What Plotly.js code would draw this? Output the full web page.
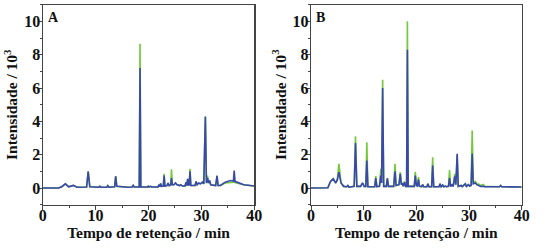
<!DOCTYPE html>
<html>
<head>
<meta charset="utf-8">
<script src="https://cdn.plot.ly/plotly-3.0.1.min.js"></script>
<style>html,body{margin:0;padding:0;background:#fff;}#chart{width:550px;height:251px;}</style>
</head>
<body>
<div id="chart"></div>
<script>
// Panel A: retention time (min) and intensity (x10^3) for both detector traces
const timeA = [0,3.0,3.6,4.3,4.9,5.8,6.5,8.3,8.6,8.9,10.6,10.8,11.0,12.1,12.3,12.5,13.6,13.8,14.0,15.7,15.9,16.1,16.9,17.1,17.3,18.25,18.4,18.55,19.8,19.95,20.1,20.4,20.6,21.8,22.0,22.15,22.3,22.45,22.8,22.95,23.1,23.5,23.7,23.9,24.2,24.35,24.5,24.8,25.1,25.4,25.9,26.1,26.4,26.9,27.1,27.25,27.4,27.55,27.7,27.85,28.0,28.8,29.0,29.2,29.5,29.8,30.2,30.45,30.75,30.95,31.15,31.35,31.55,31.75,32.7,32.95,33.15,33.6,34.5,35.5,36.05,36.2,36.35,37.0,38.0,40.0];
const greenA = [0,0,0.08,0.25,0.07,0.16,0.05,0.06,1.0,0.08,0.05,0.1,0.05,0.05,0.14,0.05,0.08,0.72,0.1,0.05,0.08,0.05,0.06,0.16,0.06,0.06,8.65,0.06,0.06,0.15,0.06,0.1,0.06,0.07,0.2,0.08,0.28,0.1,0.12,0.85,0.12,0.15,0.3,0.15,0.2,1.12,0.2,0.2,0.3,0.2,0.15,0.2,0.12,0.12,0.35,0.15,0.55,0.15,0.2,1.15,0.15,0.15,0.4,0.2,0.3,0.25,0.35,0.25,4.3,0.3,0.75,0.3,0.45,0.2,0.15,0.75,0.15,0.15,0.3,0.35,0.35,0.5,0.33,0.28,0.2,0.12];
const blueA  = [0,0,0.08,0.25,0.07,0.16,0.05,0.06,0.98,0.08,0.05,0.1,0.05,0.05,0.14,0.05,0.08,0.7,0.1,0.05,0.08,0.05,0.06,0.16,0.06,0.06,7.2,0.06,0.06,0.1,0.06,0.1,0.06,0.07,0.2,0.08,0.28,0.1,0.12,0.75,0.12,0.15,0.3,0.15,0.2,0.6,0.2,0.2,0.3,0.2,0.15,0.2,0.12,0.12,0.35,0.15,0.55,0.15,0.2,1.0,0.15,0.15,0.4,0.2,0.3,0.25,0.35,0.25,4.28,0.3,0.6,0.3,0.45,0.2,0.15,0.73,0.15,0.15,0.35,0.45,0.42,1.05,0.4,0.32,0.2,0.12];

// Panel B
const timeB = [0,3.2,3.7,4.2,4.7,5.0,5.3,5.7,6.2,6.8,7.0,7.2,8.2,8.45,8.7,9.4,9.8,10.1,10.4,10.6,10.8,12.1,12.3,12.5,13.0,13.25,13.4,13.6,13.8,14.3,14.5,14.7,15.7,15.95,16.15,16.7,16.95,17.15,17.3,17.5,17.75,17.95,18.15,18.3,18.45,19.6,19.8,20.0,20.2,20.4,20.6,21.0,21.2,21.4,22.0,22.2,22.4,22.9,23.1,23.3,24.3,24.5,24.7,25.0,25.2,25.5,25.7,26.1,26.3,26.5,26.8,27.0,27.3,27.5,27.75,27.95,28.5,28.7,29.3,29.5,29.9,30.1,30.4,30.6,30.8,31.2,31.5,31.8,32.2,32.7,33.0,35.8,36.0,36.2,40.0];
const greenB = [0,0.02,0.4,0.55,0.3,0.5,1.45,0.3,0.1,0.08,0.15,0.05,0.1,3.1,0.1,0.1,0.3,0.1,0.1,2.75,0.08,0.08,0.72,0.08,0.1,1.15,0.3,6.5,0.1,0.1,0.6,0.1,0.1,1.45,0.15,0.2,0.95,0.2,0.3,0.1,0.4,0.1,0.1,10.0,0.1,0.1,0.97,0.15,0.12,0.65,0.1,0.08,0.2,0.08,0.08,0.25,0.08,0.08,1.85,0.08,0.08,0.25,0.08,0.18,0.08,0.12,0.08,0.1,1.08,0.1,0.2,0.1,0.85,0.2,2.0,0.1,0.15,0.08,0.25,0.1,0.2,0.12,0.15,3.45,0.25,0.42,0.2,0.25,0.15,0.22,0.1,0.08,0.15,0.08,0.06];
const blueB  = [0,0.02,0.4,0.55,0.3,0.5,0.95,0.3,0.1,0.08,0.15,0.05,0.1,2.7,0.1,0.1,0.3,0.1,0.1,1.65,0.08,0.08,0.6,0.08,0.1,0.75,0.3,6.0,0.1,0.1,0.58,0.1,0.1,1.0,0.15,0.2,0.85,0.2,0.3,0.1,0.35,0.1,0.1,8.3,0.1,0.1,0.75,0.15,0.12,0.5,0.1,0.08,0.2,0.08,0.08,0.25,0.08,0.08,1.35,0.08,0.08,0.25,0.08,0.18,0.08,0.12,0.08,0.1,0.6,0.1,0.2,0.1,0.7,0.2,2.05,0.1,0.15,0.08,0.25,0.1,0.2,0.12,0.15,2.07,0.25,0.3,0.2,0.15,0.1,0.1,0.08,0.08,0.15,0.08,0.06];

const xTicks = [0,10,20,30,40];
const yTicks = [0,2,4,6,8,10];
const panelLabels = ['A','B'];
const xTitle = 'Tempo de retenção / min';
const yTitle = 'Intensidade / 10<sup>3</sup>';

const GREEN = '#74c83c', BLUE = '#3a48ac';
const FONT = 'Liberation Serif, Times New Roman, serif';

const traces = [
  {x: timeA, y: greenA, xaxis:'x', yaxis:'y', mode:'lines', line:{color:GREEN, width:1.6}, hoverinfo:'skip'},
  {x: timeA, y: blueA,  xaxis:'x', yaxis:'y', mode:'lines', line:{color:BLUE, width:1.6}, hoverinfo:'skip'},
  {x: timeB, y: greenB, xaxis:'x2', yaxis:'y2', mode:'lines', line:{color:GREEN, width:1.6}, hoverinfo:'skip'},
  {x: timeB, y: blueB,  xaxis:'x2', yaxis:'y2', mode:'lines', line:{color:BLUE, width:1.6}, hoverinfo:'skip'}
];

function xax(domain, anchor){
  return {domain: domain, anchor: anchor, range:[0,40], tickvals: xTicks, ticktext: xTicks.map(String),
    ticks:'outside', ticklen:4, tickwidth:1, tickcolor:'#444', ticklabelstandoff:-8,
    minor:{dtick:5, ticks:'outside', ticklen:2, tickcolor:'#444', showgrid:false},
    showline:true, linecolor:'#444', linewidth:1.2, mirror:true, showgrid:false, zeroline:false,
    tickfont:{family:FONT, size:16, color:'#111', weight:'bold'},
    title:{text:xTitle, font:{family:FONT, size:15.5, color:'#111', weight:'bold'}, standoff:4},
    automargin:false, fixedrange:true};
}
function yax(domain, anchor){
  return {domain: domain, anchor: anchor, range:[-1,11], tickvals: yTicks, ticktext: yTicks.map(String),
    ticks:'outside', ticklen:4, tickwidth:1, tickcolor:'#444', ticklabelstandoff:-6,
    minor:{dtick:1, ticks:'outside', ticklen:2, tickcolor:'#444', showgrid:false},
    showline:true, linecolor:'#444', linewidth:1.2, mirror:true, showgrid:false, zeroline:false,
    tickfont:{family:FONT, size:16, color:'#111', weight:'bold'},
    title:{text:yTitle, font:{family:FONT, size:15.5, color:'#111', weight:'bold'}, standoff:2},
    automargin:false, fixedrange:true};
}

const layout = {
  width:550, height:251, margin:{l:0,r:0,t:0,b:0},
  paper_bgcolor:'#fff', plot_bgcolor:'#fff', showlegend:false,
  xaxis: xax([42.7/550, 254.3/550], 'y'),
  yaxis: yax([1-204.7/251, 1-4.7/251], 'x'),
  xaxis2: xax([311/550, 521.7/550], 'y2'),
  yaxis2: yax([1-204.7/251, 1-4.7/251], 'x2'),
  annotations: panelLabels.map((t,i)=>({text:t, xref: i===0?'x domain':'x2 domain', yref: i===0?'y domain':'y2 domain',
    x:0.015, y:0.985, xanchor:'left', yanchor:'top', showarrow:false,
    font:{family:FONT, size:14, color:'#111', weight:'bold'}}))
};

Plotly.newPlot('chart', traces, layout, {displayModeBar:false, staticPlot:true});
</script>
</body>
</html>
